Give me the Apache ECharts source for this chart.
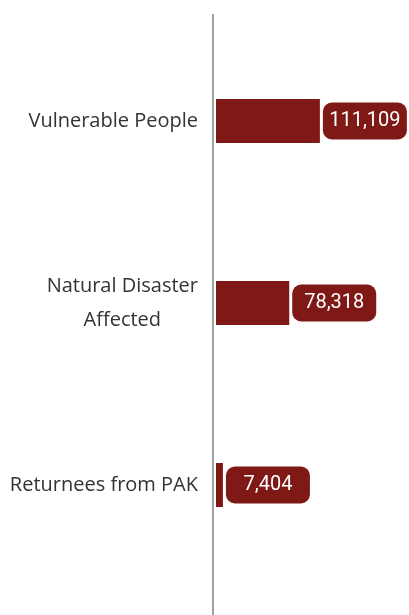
<!DOCTYPE html>
<html>
<head>
<meta charset="utf-8">
<script src="https://cdn.jsdelivr.net/npm/echarts@6/dist/echarts.min.js"></script>
<style>
  html, body { margin: 0; padding: 0; background: #fff; }
  #chart { width: 409px; height: 615px; }
</style>
</head>
<body>
<div id="chart"></div>
<script>
// 数据
const categories = ['Vulnerable People', 'Natural Disaster\nAffected', 'Returnees from PAK'];
const values = [111109, 78318, 7404];

const barColor = '#7e1916';

const chart = echarts.init(document.getElementById('chart'), null, { renderer: 'canvas' });

const option = {
  animation: false,
  backgroundColor: '#ffffff',
  grid: {
    left: 216,
    right: 6,
    top: 30,
    bottom: 39
  },
  xAxis: {
    type: 'value',
    min: 0,
    max: 200000,
    show: false
  },
  yAxis: {
    type: 'category',
    inverse: true,
    data: categories,
    axisLine: { show: false },
    axisTick: { show: false },
    axisLabel: {
      margin: 18,
      // 多行标签居中对齐
      formatter: v => '{c|' + v.split('\n').join('}\n{c|') + '}',
      rich: {
        c: {
          align: 'center',
          fontFamily: 'Open Sans',
          fontSize: 20,
          lineHeight: 34,
          color: '#333333'
        }
      }
    }
  },
  graphic: [
    {
      type: 'line',
      shape: { x1: 213, y1: 14, x2: 213, y2: 615 },
      style: { stroke: '#a0a0a0', lineWidth: 2 },
      silent: true
    }
  ],
  series: [
    {
      type: 'bar',
      data: values,
      barWidth: 44,
      itemStyle: { color: barColor },
      label: {
        show: true,
        position: 'right',
        distance: 3,
        backgroundColor: barColor,
        borderRadius: 9,
        formatter: p => '{v|' + p.value.toLocaleString('en-US') + '}',
        rich: {
          v: {
            width: 84,
            height: 37,
            lineHeight: 37,
            align: 'center',
            color: '#ffffff',
            fontFamily: 'Roboto',
            fontSize: 20
          }
        }
      }
    }
  ]
};

chart.setOption(option);
</script>
</body>
</html>
